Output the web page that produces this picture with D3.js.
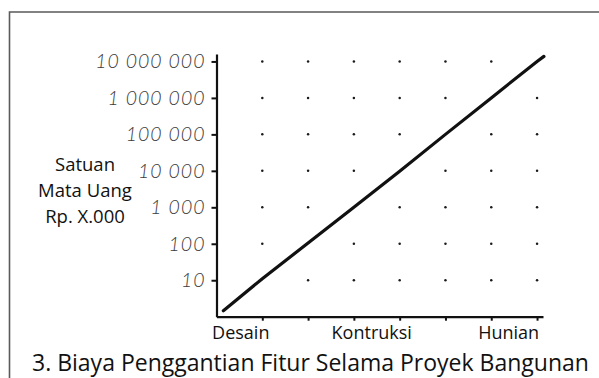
<!DOCTYPE html>
<html>
<head>
<meta charset="utf-8">
<script src="https://cdn.jsdelivr.net/npm/d3@7"></script>
<style>
  html, body { margin: 0; padding: 0; background: #fff; }
  svg { display: block; }
</style>
</head>
<body>
<svg id="chart" width="599" height="378"></svg>
<script>
// Project phases along the horizontal axis (positions in phase units)
const phaseNames = ["Desain", "Kontruksi", "Hunian"];
const phasePositions = [0.53, 3.39, 6.38];

// Grid columns (phase steps) and log-scale rows
const columns = [1, 2, 3, 4, 5, 6, 7];
const rowValues = [10, 100, 1000, 10000, 100000, 1000000, 10000000];
const rowLabels = ["10", "100", "1 000", "10 000", "100 000", "1 000 000", "10 000 000"];

// Replacement cost curve: [phase, cost]
const costX = [0.15, 1, 2, 3, 4, 5, 6, 7, 7.15];
const costY = [1.46, 11, 105, 1000, 9800, 100000, 1000000, 10000000, 13800000];

const yTitleLines = ["Satuan", "Mata Uang", "Rp. X.000"];
const chartTitle = "3. Biaya Penggantian Fitur Selama Proyek Bangunan";

const svg = d3.select("#chart");

// Frame
svg.append("path")
  .attr("d", "M9.5,378 L9.5,12 L599,12")
  .attr("fill", "none")
  .attr("stroke", "#5a5a5a")
  .attr("stroke-width", 1.6);

const x = d3.scaleLinear().domain([0, 7.13]).range([216.5, 543]);
const y = d3.scaleLog().domain([1, 1.6e7]).range([316.7, 54]);

// Dotted grid: one dot per column/row, left out where the curve passes
const dots = [];
columns.forEach((c, ci) => {
  rowValues.forEach((v, ri) => {
    if (ci !== ri) dots.push({ c, v });
  });
});
svg.append("g").selectAll("circle")
  .data(dots)
  .join("circle")
  .attr("cx", d => x(d.c))
  .attr("cy", d => y(d.v))
  .attr("r", 1.25)
  .attr("fill", "#1a1a1a");

// Y axis
const yAxis = d3.axisLeft(y)
  .tickValues(rowValues)
  .tickFormat((d, i) => rowLabels[i])
  .tickSize(5)
  .tickSizeOuter(0)
  .tickPadding(6);
const gy = svg.append("g")
  .attr("transform", `translate(${x(0)},0)`)
  .call(yAxis);
gy.select(".domain").attr("stroke", "#111").attr("stroke-width", 2.2);
gy.selectAll(".tick line").attr("stroke", "#111").attr("stroke-width", 2);
gy.selectAll(".tick text")
  .attr("fill", "#3c3c3c")
  .style("font-family", "Lato, sans-serif")
  .style("font-weight", 300)
  .style("font-style", "italic")
  .style("font-size", "19.5px")
  .style("letter-spacing", "1px");

// X axis
const xAxis = d3.axisBottom(x)
  .tickValues(columns)
  .tickFormat("")
  .tickSize(4)
  .tickSizeOuter(0);
const gx = svg.append("g")
  .attr("transform", `translate(0,${y(1)})`)
  .call(xAxis);
gx.select(".domain").attr("stroke", "#111").attr("stroke-width", 2.2);
gx.selectAll(".tick line").attr("stroke", "#111").attr("stroke-width", 2);

// Phase labels
svg.append("g").selectAll("text")
  .data(phaseNames)
  .join("text")
  .attr("x", (d, i) => x(phasePositions[i]))
  .attr("y", 339)
  .attr("text-anchor", "middle")
  .attr("fill", "#111")
  .style("font-family", "'Open Sans', sans-serif")
  .style("font-size", "18px")
  .text(d => d);

// Cost curve
const costPoints = costX.map((v, i) => [v, costY[i]]);
svg.append("path")
  .datum(costPoints)
  .attr("fill", "none")
  .attr("stroke", "#111")
  .attr("stroke-width", 3.2)
  .attr("stroke-linecap", "round")
  .attr("d", d3.line().x(d => x(d[0])).y(d => y(d[1])));

// Y axis title
svg.append("g").selectAll("text")
  .data(yTitleLines)
  .join("text")
  .attr("x", 85)
  .attr("y", (d, i) => 171 + i * 26)
  .attr("text-anchor", "middle")
  .attr("fill", "#111")
  .style("font-family", "'Open Sans', sans-serif")
  .style("font-size", "18.5px")
  .text(d => d);

// Chart title
svg.append("text")
  .attr("x", 32)
  .attr("y", 371)
  .attr("fill", "#111")
  .style("font-family", "'Open Sans', sans-serif")
  .style("font-size", "23px")
  .text(chartTitle);
</script>
</body>
</html>
